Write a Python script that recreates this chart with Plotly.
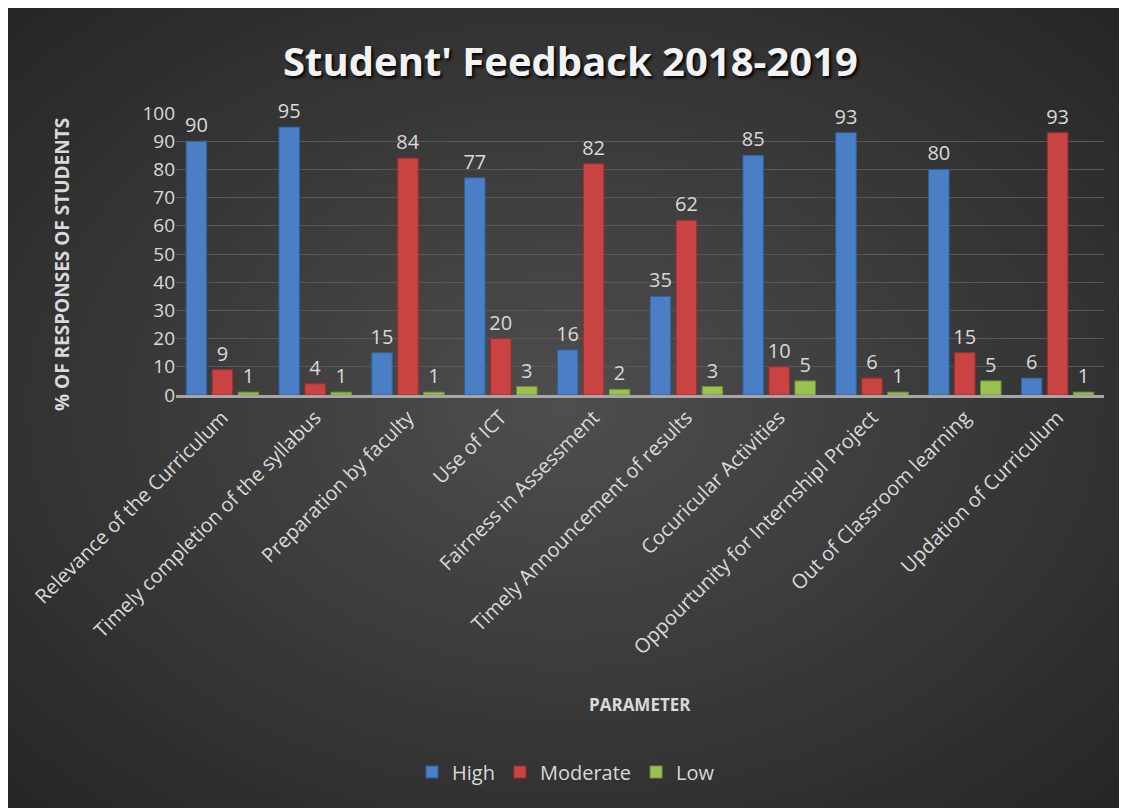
import plotly.graph_objects as go
import base64

categories = ["Relevance of the Curriculum", "Timely completion of the syllabus",
              "Preparation by faculty", "Use of ICT", "Fairness in Assessment",
              "Timely Announcement of results", "Cocuricular Activities",
              "Oppourtunity for Internshipl Project", "Out of Classroom learning",
              "Updation of Curriculum"]
high = [90, 95, 15, 77, 16, 35, 85, 93, 80, 6]
moderate = [9, 4, 84, 20, 82, 62, 10, 6, 15, 93]
low = [1, 1, 1, 3, 2, 3, 5, 1, 5, 1]

OFF = 8  # page body margin
W, H = 1111, 800
ML, MT = 176 - OFF, 113 - OFF
plot_right, plot_bottom = 1104 - OFF, 395 - OFF
MR, MB = W - plot_right, H - plot_bottom
pw, ph = W - ML - MR, H - MT - MB

def px_x(p):
    return (p - OFF - ML) / pw

def px_y(p):
    return (plot_bottom - (p - OFF)) / ph

svg = ('<svg xmlns="http://www.w3.org/2000/svg" width="1111" height="800" preserveAspectRatio="none">'
       '<defs><radialGradient id="g" cx="50%" cy="50%" r="70%">'
       '<stop offset="0%" stop-color="#4e4e4e"/><stop offset="100%" stop-color="#262626"/>'
       '</radialGradient></defs><rect width="1111" height="800" fill="url(#g)"/></svg>')
bg_src = "data:image/svg+xml;base64," + base64.b64encode(svg.encode()).decode()

font = "Open Sans, Lato, sans-serif"
lbl = dict(size=20, color="#d9d9d9", family=font)

fig = go.Figure()
for name, vals, col, lc in [("High", high, "#4a7fc6", "#2f5f9e"),
                            ("Moderate", moderate, "#c94342", "#9c2f2e"),
                            ("Low", low, "#9bc250", "#6f8f33")]:
    fig.add_trace(go.Bar(x=categories, y=vals, name=name,
                         marker=dict(color=col, line=dict(color=lc, width=1)),
                         text=vals, textposition="outside", textfont=lbl,
                         constraintext="none", cliponaxis=False))

fig.update_layout(
    width=W, height=H,
    margin=dict(l=ML, r=MR, t=MT, b=MB, autoexpand=False),
    paper_bgcolor="#2e2e2e", plot_bgcolor="rgba(0,0,0,0)",
    barmode="group", bargap=0.16, bargroupgap=0.21,
    font=dict(family=font, color="#d9d9d9"),
    showlegend=True,
    legend=dict(orientation="h", x=px_x(566), xanchor="center",
                yref="container", y=(H - (772 - OFF)) / H, yanchor="middle",
                bgcolor="rgba(0,0,0,0)",
                font=dict(size=20, color="#d9d9d9", family=font),
                traceorder="normal"),
    images=[dict(source=bg_src, xref="paper", yref="paper",
                 x=px_x(OFF), y=px_y(OFF), sizex=W / pw, sizey=H / ph,
                 xanchor="left", yanchor="top", sizing="stretch", layer="below")],
    annotations=[
        dict(text="<b>Student' Feedback 2018-2019</b>", xref="paper", yref="paper",
             x=px_x(570), y=px_y(60), xanchor="center", yanchor="middle", showarrow=False,
             font=dict(size=40, color="#f2f2f2", family=font, shadow="2px 2px 3px #000000")),
        dict(text="<b>% OF RESPONSES OF STUDENTS</b>", xref="paper", yref="paper",
             x=px_x(62), y=px_y(265), xanchor="center", yanchor="middle", showarrow=False,
             textangle=-90, font=dict(size=19, color="#d9d9d9", family=font)),
        dict(text="<b>PARAMETER</b>", xref="paper", yref="paper",
             x=px_x(640), y=px_y(704), xanchor="center", yanchor="middle", showarrow=False,
             font=dict(size=17, color="#d9d9d9", family=font)),
    ],
)
fig.update_yaxes(range=[0, 100], dtick=10, gridcolor="#585858", gridwidth=1,
                 tickfont=dict(size=19, color="#d9d9d9", family=font),
                 zeroline=False, showline=False, ticks="", automargin=False)
fig.update_xaxes(tickangle=-45, tickfont=dict(size=20, color="#d9d9d9", family=font),
                 showline=True, linecolor="#a6a6a6", linewidth=3, ticks="", automargin=False)

fig.write_html("out.html")
